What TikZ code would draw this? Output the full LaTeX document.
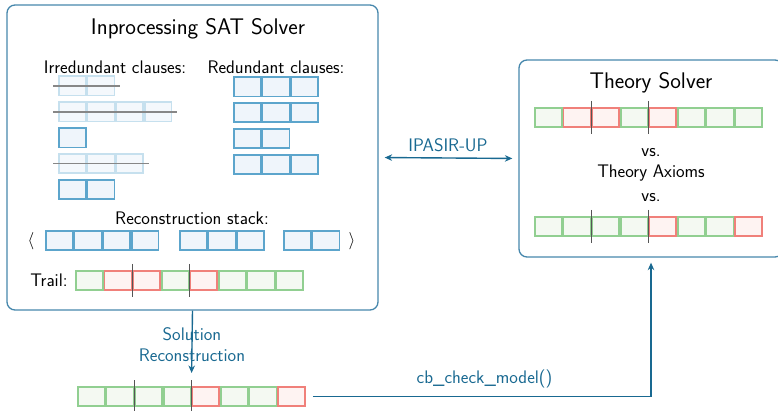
\documentclass[tikz,border=0pt]{standalone}
\usetikzlibrary{arrows.meta,calc}
\renewcommand{\familydefault}{\sfdefault}

\definecolor{framecol}{RGB}{70,135,172}
\definecolor{linkcol}{RGB}{25,105,145}
\definecolor{bluedraw}{RGB}{92,165,204}
\definecolor{bluefill}{RGB}{239,245,251}
\definecolor{fadedraw}{RGB}{198,224,238}
\definecolor{fadefill}{RGB}{244,248,252}
\definecolor{greendraw}{RGB}{145,207,145}
\definecolor{greenfill}{RGB}{244,249,242}
\definecolor{reddraw}{RGB}{240,128,122}
\definecolor{redfill}{RGB}{254,243,242}
\definecolor{strikecol}{RGB}{135,135,135}
\definecolor{sepcol}{RGB}{85,85,85}

\newcommand\cw{28.6}
% a row of literal cells: name prefix, left x, centre y, list of cell styles
\newcommand\cellrow[4]{%
  \foreach \s [count=\i] in {#4} {
    \node[cell,\s] (#1\i) at ({#2+(\i-0.5)*\cw},#3) {};
  }}

\tikzset{
  cell/.style={rectangle, minimum width=26.9pt, minimum height=19.3pt, inner sep=0pt,
    outer sep=0.85pt, line width=1.7pt},
  gcell/.style={draw=greendraw, fill=greenfill},
  rcell/.style={draw=reddraw, fill=redfill},
  bcell/.style={draw=bluedraw, fill=bluefill},
  fcell/.style={draw=fadedraw, fill=fadefill},
  panel/.style={draw=framecol, line width=1.3pt, rounded corners=8pt, inner sep=0pt},
  heading/.style={font=\fontsize{22.6}{27}\selectfont, anchor=base},
  label/.style={font=\fontsize{18.2}{22}\selectfont, anchor=base, inner sep=0pt},
  linklabel/.style={label, text=linkcol},
  link/.style={draw=linkcol, line width=1.4pt},
  strike/.style={draw=strikecol, line width=1.3pt},
  sepline/.style={draw=sepcol, line width=0.8pt},
}

\begin{document}
\begin{tikzpicture}[x=1pt, y=-1pt]
\useasboundingbox (0,0) rectangle (778,411);

% ---------- SAT solver panel ----------
\node[panel, minimum width=371pt, minimum height=305pt] (sat) at (192.5,157.5) {};
\node[heading] (sattitle) at (198,35) {Inprocessing SAT Solver};

\node[label] (irrlab) at (115,74) {Irredundant clauses:};
\node[label] (redlab) at (276,74) {Redundant clauses:};

% irredundant clauses (struck-out ones are faded)
\cellrow{ia}{58}{86}{fcell,fcell}
\cellrow{ib}{58}{112}{fcell,fcell,fcell,fcell}
\cellrow{ic}{58}{138}{bcell}
\cellrow{id}{58}{163.5}{fcell,fcell,fcell}
\cellrow{ie}{58}{189.5}{bcell,bcell}
\draw[strike] ($(ia1.west)+(-5,0)$) -- ($(ia2.east)+(5,0)$);
\draw[strike] ($(ib1.west)+(-5,0)$) -- ($(ib4.east)+(5,0)$);
\draw[strike] ($(id1.west)+(-5,0)$) -- ($(id3.east)+(5,0)$);

% redundant clauses
\cellrow{ra}{233}{87}{bcell,bcell,bcell}
\cellrow{rb}{233}{112.5}{bcell,bcell,bcell}
\cellrow{rc}{233}{138.5}{bcell,bcell}
\cellrow{rd}{233}{164.5}{bcell,bcell,bcell}

% reconstruction stack
\node[label] (reclab) at (192,225) {Reconstruction stack:};
\node[label, anchor=center] (langle) at (31,241) {$\langle$};
\node[label, anchor=center] (rangle) at (352,241) {$\rangle$};
\cellrow{sa}{45}{240.5}{bcell,bcell,bcell,bcell}
\cellrow{sb}{179}{240.5}{bcell,bcell,bcell}
\cellrow{sc}{283}{240.5}{bcell,bcell}

% trail
\node[label] (traillab) at (49,287) {Trail:};
\cellrow{t}{75}{280.5}{gcell,rcell,rcell,gcell,rcell,gcell,gcell,gcell}
\draw[sepline] ($(t2.north east)+(0,-6)$) -- ($(t2.south east)+(0,6)$);
\draw[sepline] ($(t4.north east)+(0,-6)$) -- ($(t4.south east)+(0,6)$);

% ---------- theory solver panel ----------
\node[panel, minimum width=264pt, minimum height=197pt] (theory) at (651,158.5) {};
\node[heading] (thtitle) at (651,89) {Theory Solver};
\cellrow{ta}{534}{117.5}{gcell,rcell,rcell,gcell,rcell,gcell,gcell,gcell}
\draw[sepline] ($(ta2.north east)+(0,-6)$) -- ($(ta2.south east)+(0,6)$);
\draw[sepline] ($(ta4.north east)+(0,-6)$) -- ($(ta4.south east)+(0,6)$);
\node[label] (vsa) at (651,157) {vs.};
\node[label] (axioms) at (651,178) {Theory Axioms};
\node[label] (vsb) at (651,202) {vs.};
\cellrow{tb}{534}{226.5}{gcell,gcell,gcell,gcell,rcell,gcell,gcell,rcell}
\draw[sepline] ($(tb2.north east)+(0,-6)$) -- ($(tb2.south east)+(0,6)$);
\draw[sepline] ($(tb4.north east)+(0,-6)$) -- ($(tb4.south east)+(0,6)$);

% ---------- reconstructed model ----------
\cellrow{m}{77}{396.5}{gcell,gcell,gcell,gcell,rcell,gcell,gcell,rcell}
\draw[sepline] ($(m2.north east)+(0,-6)$) -- ($(m2.south east)+(0,10)$);
\draw[sepline] ($(m4.north east)+(0,-6)$) -- ($(m4.south east)+(0,10)$);

% ---------- connections ----------
\draw[link, {Stealth[length=7.5pt,width=6.5pt]}-{Stealth[length=7.5pt,width=6.5pt]}, shorten <=6pt, shorten >=6pt]
  (sat.east) -- (theory.west);
\node[linklabel] (ipasir) at (448,152) {IPASIR-UP};

\node[linklabel] (sollab) at (192,340) {Solution};
\node[linklabel] (reclab2) at (192,361) {Reconstruction};
\draw[link, -{Stealth[length=7.5pt,width=6.5pt]}, shorten >=13pt] (sat.south) -- (m4.north east);

\coordinate (bend) at (theory.south |- m8.east);
\draw[link, -{Stealth[length=7.5pt,width=6.5pt]}, shorten >=5pt]
  ($(m8.east)+(7,0)$) -- (bend) -- (theory.south);
\node[linklabel] (cblab) at (484.5,383) {cb\_check\_model()};

\end{tikzpicture}
\end{document}
